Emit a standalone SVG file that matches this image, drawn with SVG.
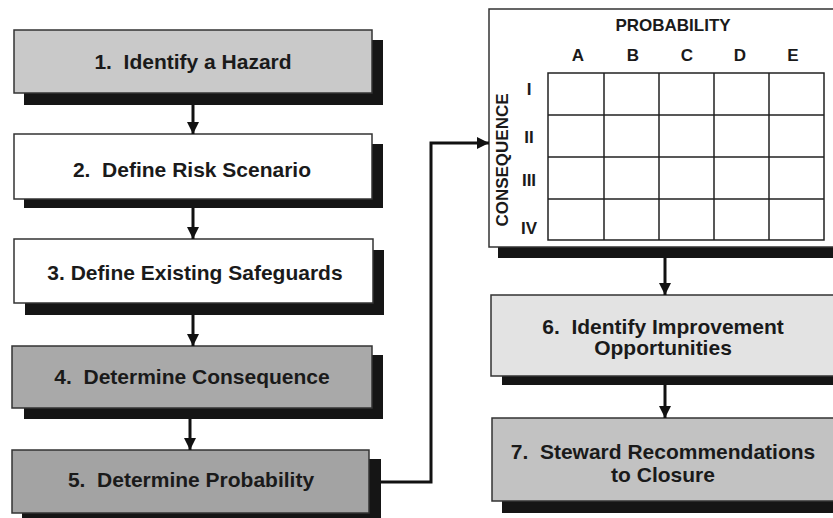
<svg xmlns="http://www.w3.org/2000/svg" width="833" height="518" viewBox="0 0 833 518">
<defs>
<style>
.box{stroke:#333;stroke-width:1.5}
.sh{fill:#151515}
.t{font-family:"Liberation Sans",Arial,sans-serif;font-weight:bold;font-size:21px;fill:#1a1a1a;text-anchor:middle;white-space:pre}
.m{font-family:"Liberation Sans",Arial,sans-serif;font-weight:bold;font-size:17px;fill:#1a1a1a;text-anchor:middle}
.c{fill:none;stroke:#111;stroke-width:3}
.g{fill:none;stroke:#222;stroke-width:1.5}
</style>
<marker id="ah" viewBox="0 0 10 10" refX="10" refY="5" markerWidth="4" markerHeight="4" orient="auto" markerUnits="strokeWidth">
<path d="M0,0 L10,5 L0,10 z" fill="#111"/>
</marker>
</defs>
<rect width="833" height="518" fill="#fff"/>

<g id="node1">
<rect class="sh" x="24" y="40" width="359" height="65"/>
<rect class="box" x="14" y="30" width="358" height="63" fill="#c9c9c9"/>
<text class="t" x="193" y="69" xml:space="preserve">1.  Identify a Hazard</text>
</g>
<g id="node2">
<rect class="sh" x="24" y="144" width="359" height="64"/>
<rect class="box" x="14" y="134" width="358" height="65" fill="#fff"/>
<text class="t" x="192" y="177" xml:space="preserve">2.  Define Risk Scenario</text>
</g>
<g id="node3">
<rect class="sh" x="25" y="250" width="359" height="65"/>
<rect class="box" x="14" y="239" width="359" height="64" fill="#fff"/>
<text class="t" x="195" y="280">3. Define Existing Safeguards</text>
</g>
<g id="node4">
<rect class="sh" x="24" y="355" width="359" height="64"/>
<rect class="box" x="12" y="346" width="360" height="62" fill="#a9a9a9"/>
<text class="t" x="192" y="384" xml:space="preserve">4.  Determine Consequence</text>
</g>
<g id="node5">
<rect class="sh" x="22" y="459" width="359" height="64"/>
<rect class="box" x="12" y="450" width="357" height="63" fill="#a3a3a3"/>
<text class="t" x="191" y="487" xml:space="preserve">5.  Determine Probability</text>
</g>

<g id="matrix">
<rect class="sh" x="498" y="247" width="340" height="11"/>
<rect class="box" x="489" y="9" width="350" height="238" fill="#fff"/>
<text class="m" x="673" y="31">PROBABILITY</text>
<text class="m" x="578" y="61">A</text>
<text class="m" x="633" y="61">B</text>
<text class="m" x="687" y="61">C</text>
<text class="m" x="740" y="61">D</text>
<text class="m" x="793" y="61">E</text>
<text class="m" x="529" y="95">I</text>
<text class="m" x="529" y="143">II</text>
<text class="m" x="529" y="186">III</text>
<text class="m" x="529" y="234">IV</text>
<text class="m" transform="translate(508,160) rotate(-90)">CONSEQUENCE</text>
<path class="g" d="M548,73 H824 V240 H548 Z M604,73 V240 M659,73 V240 M714,73 V240 M769,73 V240 M548,115 H824 M548,157 H824 M548,199 H824"/>
</g>

<g id="node6">
<rect class="sh" x="502" y="305" width="340" height="80"/>
<rect class="box" x="491" y="295" width="350" height="81" fill="#e3e3e3"/>
<text class="t" x="663" y="334" xml:space="preserve">6.  Identify Improvement</text>
<text class="t" x="663" y="355">Opportunities</text>
</g>
<g id="node7">
<rect class="sh" x="502" y="428" width="340" height="85"/>
<rect class="box" x="492" y="418" width="350" height="83" fill="#c2c2c2"/>
<text class="t" x="663" y="459" xml:space="preserve">7.  Steward Recommendations</text>
<text class="t" x="663" y="482">to Closure</text>
</g>

<g id="connectors">
<path class="c" d="M193,105 V134" marker-end="url(#ah)"/>
<path class="c" d="M193,208 V239" marker-end="url(#ah)"/>
<path class="c" d="M193,315 V346" marker-end="url(#ah)"/>
<path class="c" d="M190,419 V450" marker-end="url(#ah)"/>
<path class="c" d="M381,482 H431 V143 H489" marker-end="url(#ah)"/>
<path class="c" d="M665,258 V295" marker-end="url(#ah)"/>
<path class="c" d="M665,385 V418" marker-end="url(#ah)"/>
</g>
</svg>
